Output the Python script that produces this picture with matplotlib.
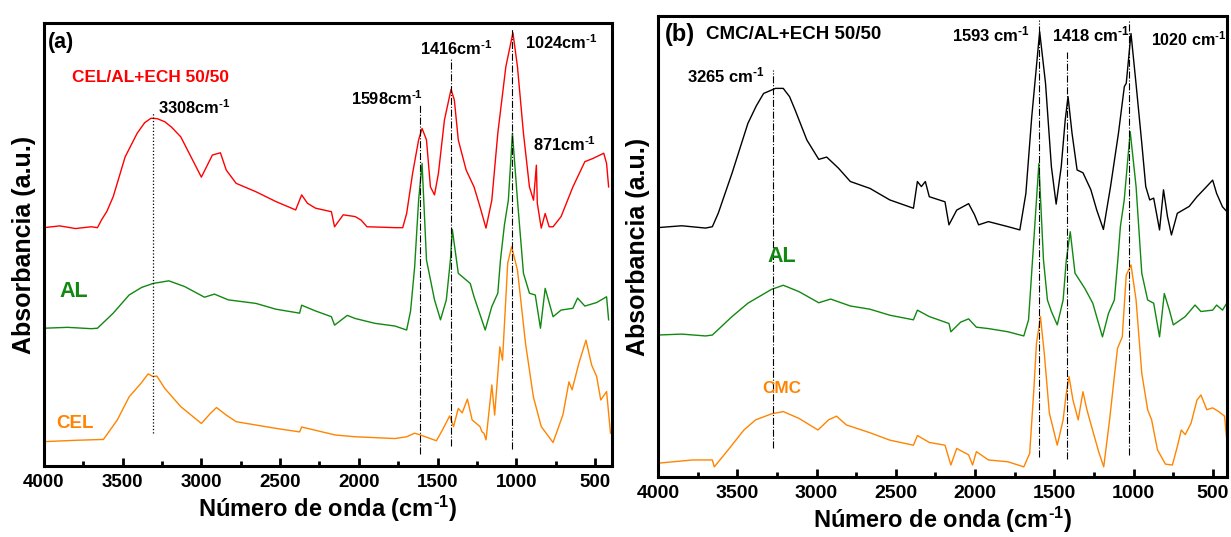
import matplotlib
matplotlib.use("Agg")
import matplotlib.pyplot as plt
from matplotlib.ticker import MultipleLocator

plt.rcParams['font.family'] = ['Liberation Sans', 'DejaVu Sans']
plt.rcParams['font.weight'] = 'bold'
plt.rcParams['mathtext.fontset'] = 'custom'
plt.rcParams['mathtext.rm'] = 'Liberation Sans:bold'
plt.rcParams['mathtext.bf'] = 'Liberation Sans:bold'
plt.rcParams['mathtext.default'] = 'bf'

# --- panel (a): CEL/AL+ECH 50/50, AL, CEL (absorbance in a.u., 0-100 of the axis) ---
cel_al_ech_wn = [4000, 3900, 3800, 3700, 3660, 3635, 3600, 3560, 3484, 3408, 3360, 3320, 3280, 3232,
                 3190, 3131, 3056, 3000, 2930, 2879, 2842, 2779, 2653, 2527, 2401, 2363, 2326, 2275,
                 2174, 2154, 2099, 2023, 1985, 1948, 1850, 1771, 1721, 1696, 1658, 1620, 1598, 1570,
                 1545, 1519, 1494, 1456, 1414, 1393, 1368, 1318, 1268, 1230, 1192, 1155, 1117, 1066,
                 1021, 992, 954, 916, 890, 872, 866, 841, 816, 791, 766, 715, 640, 564, 514, 444,
                 426, 413]
cel_al_ech_abs = [53.8, 54.2, 53.6, 54.0, 53.8, 55.5, 57.5, 60.8, 69.8, 75.1, 77.5, 78.5, 78.4, 77.7,
                  76.5, 74.3, 69.1, 65.2, 70.2, 70.7, 66.8, 63.8, 61.9, 59.7, 57.8, 61.2, 59.3, 58.2,
                  57.4, 54.0, 56.7, 56.3, 55.5, 54.0, 53.9, 53.8, 53.8, 57.0, 66.1, 73.6, 76.2, 73.6,
                  63.0, 61.2, 66.1, 78.1, 85.0, 82.6, 73.6, 66.8, 63.0, 58.5, 53.7, 60.0, 75.1, 90.1,
                  97.8, 90.1, 75.1, 63.0, 60.0, 67.9, 59.3, 53.7, 57.0, 54.0, 54.0, 56.3, 63.0, 68.7,
                  69.4, 70.6, 68.3, 63.0]

al_a_wn = [4000, 3850, 3700, 3660, 3560, 3459, 3380, 3308, 3207, 3106, 2980, 2917, 2829, 2653,
           2527, 2376, 2363, 2275, 2174, 2154, 2073, 2023, 1897, 1771, 1696, 1671, 1645, 1620,
           1598, 1570, 1519, 1481, 1444, 1418, 1406, 1368, 1292, 1268, 1197, 1155, 1117, 1100,
           1075, 1050, 1024, 992, 954, 916, 879, 846, 816, 766, 715, 640, 610, 564, 489, 426, 413]
al_a_abs = [31.1, 31.3, 31.0, 31.1, 34.5, 38.6, 40.3, 41.2, 41.8, 40.5, 38.1, 38.8, 37.5, 36.7,
            35.4, 34.5, 36.3, 35.0, 33.7, 31.8, 34.0, 33.3, 32.2, 31.6, 30.7, 35.0, 45.0, 60.0,
            68.3, 46.5, 37.5, 33.0, 37.5, 46.5, 53.4, 43.5, 41.2, 38.2, 30.7, 36.0, 39.0, 46.5,
            54.4, 60.0, 75.1, 60.0, 43.5, 39.0, 38.6, 31.1, 40.1, 33.7, 35.2, 35.6, 37.9, 36.1,
            36.9, 38.2, 33.0]

cel_wn = [4000, 3800, 3622, 3534, 3459, 3383, 3338, 3308, 3283, 3232, 3131, 3000, 2942, 2904,
          2842, 2779, 2527, 2376, 2363, 2149, 2023, 1771, 1696, 1645, 1608, 1507, 1469, 1423,
          1398, 1368, 1343, 1310, 1280, 1230, 1217, 1205, 1192, 1155, 1137, 1104, 1087, 1054,
          1029, 992, 941, 891, 841, 766, 703, 665, 645, 602, 557, 521, 489, 463, 426, 401]
cel_abs = [5.5, 5.8, 6.0, 10.4, 15.6, 18.7, 20.8, 20.2, 20.3, 17.5, 13.4, 9.6, 11.9, 13.2,
           11.5, 10.0, 8.5, 7.7, 8.8, 7.0, 6.6, 6.2, 6.6, 7.4, 7.0, 5.7, 8.1, 11.3,
           8.9, 13.0, 12.0, 15.1, 10.4, 8.9, 7.7, 7.4, 5.9, 18.3, 11.5, 26.9, 23.9, 45.8,
           49.5, 44.2, 27.7, 15.6, 8.9, 5.3, 11.6, 19.0, 17.2, 23.2, 28.4, 22.8, 20.2, 14.9, 16.8, 7.4]

# --- panel (b): CMC/AL+ECH 50/50, AL, CMC ---
cmc_al_ech_wn = [4000, 3850, 3700, 3657, 3620, 3533, 3433, 3380, 3334, 3259, 3210, 3170, 3135, 3061,
                 2986, 2936, 2862, 2787, 2663, 2538, 2389, 2364, 2339, 2314, 2289, 2190, 2165, 2116,
                 2041, 2004, 1978, 1916, 1792, 1718, 1680, 1643, 1593, 1556, 1519, 1489, 1457, 1432,
                 1414, 1389, 1357, 1320, 1270, 1233, 1191, 1146, 1096, 1059, 1047, 1017, 985, 949,
                 924, 899, 874, 837, 812, 787, 762, 725, 650, 601, 551, 502, 477, 440, 402]
cmc_al_ech_abs = [54.1, 54.5, 54.0, 54.3, 57.2, 65.9, 76.7, 80.5, 83.2, 84.3, 84.3, 82.5, 79.6, 73.1,
                  68.9, 69.4, 67.0, 64.1, 62.6, 60.1, 58.3, 64.1, 63.0, 64.1, 60.8, 59.7, 54.7, 57.9,
                  59.3, 56.9, 54.7, 55.4, 54.3, 53.6, 61.5, 78.1, 96.6, 85.4, 67.3, 59.2, 67.3, 77.4,
                  82.5, 74.6, 66.6, 66.0, 62.3, 57.9, 53.7, 63.0, 74.6, 84.7, 85.4, 96.2, 85.2, 72.4,
                  63.0, 60.1, 60.5, 53.6, 62.3, 56.5, 52.5, 57.2, 58.7, 60.8, 62.6, 64.4, 61.5, 58.6,
                  57.2]

al_b_wn = [4000, 3850, 3700, 3657, 3533, 3433, 3284, 3210, 3110, 2986, 2911, 2787, 2663, 2538,
           2389, 2364, 2289, 2165, 2153, 2091, 2041, 1992, 1916, 1792, 1693, 1663, 1638, 1598,
           1569, 1544, 1519, 1482, 1445, 1425, 1400, 1370, 1308, 1258, 1197, 1159, 1122, 1100,
           1084, 1060, 1022, 985, 949, 912, 874, 837, 807, 775, 750, 675, 613, 576, 502, 477,
           440, 415, 402]
al_b_abs = [30.8, 31.0, 30.6, 30.8, 34.8, 37.7, 40.7, 41.6, 40.2, 37.8, 38.6, 37.1, 36.4, 35.1,
            34.1, 36.2, 34.8, 33.3, 31.5, 33.6, 34.3, 32.5, 32.2, 31.5, 30.6, 34.1, 47.1, 68.0,
            47.1, 38.4, 35.9, 33.0, 38.4, 47.1, 53.2, 44.2, 40.9, 37.7, 30.4, 35.5, 38.4, 47.1,
            54.3, 60.0, 74.9, 63.0, 44.2, 38.4, 37.7, 30.4, 39.8, 36.2, 33.0, 34.8, 37.3, 35.9,
            36.2, 37.3, 36.2, 37.6, 34.3]

cmc_wn = [4000, 3781, 3657, 3645, 3557, 3458, 3384, 3284, 3210, 3110, 2991, 2924, 2874, 2812,
          2663, 2538, 2389, 2364, 2289, 2190, 2153, 2116, 2041, 2016, 1992, 1916, 1792, 1693,
          1656, 1631, 1613, 1588, 1563, 1532, 1482, 1445, 1425, 1408, 1383, 1350, 1320, 1295,
          1258, 1221, 1189, 1152, 1122, 1102, 1072, 1047, 1017, 985, 949, 912, 887, 850,
          800, 756, 725, 700, 675, 638, 601, 576, 539, 502, 464, 427, 409, 397]
cmc_abs = [3.0, 3.7, 3.7, 2.2, 5.9, 10.2, 12.4, 13.7, 14.2, 12.7, 10.2, 12.4, 13.2, 11.3,
           9.6, 8.0, 6.9, 9.0, 7.5, 6.9, 2.6, 6.2, 4.8, 2.6, 5.5, 3.7, 3.3, 2.2,
           5.1, 18.2, 29.0, 34.8, 26.5, 13.9, 6.9, 12.4, 18.2, 21.8, 16.7, 12.4, 18.5, 14.6,
           10.0, 5.5, 2.2, 12.4, 21.8, 27.9, 30.4, 43.8, 46.0, 38.4, 22.5, 14.6, 12.4, 5.9,
           2.8, 2.6, 6.6, 10.2, 9.2, 11.7, 16.7, 17.8, 14.6, 15.0, 14.2, 13.2, 6.6, 2.2]

xticks = [4000, 3500, 3000, 2500, 2000, 1500, 1000, 500]

RED = '#ff0000'
GREEN = '#118811'
ORANGE = '#ff8400'
SUP = '$^{\\text{-1}}$'


def setup_axes(ax, xmin, ticksize):
    ax.set_xlim(4000, xmin)
    ax.set_ylim(0, 100)
    ax.set_xticks(xticks)
    ax.xaxis.set_minor_locator(MultipleLocator(250))
    ax.set_yticks([])
    ax.tick_params(axis='x', which='major', direction='in', length=6, width=2,
                   labelsize=ticksize, pad=6)
    ax.tick_params(axis='x', which='minor', direction='in', length=3.5, width=2)
    for s in ax.spines.values():
        s.set_linewidth(2.2)
    ax.set_xlabel('Número de onda (cm' + SUP + ')', fontsize=17, fontweight='bold', labelpad=2)
    ax.set_ylabel('Absorbancia (a.u.)', fontsize=18, fontweight='bold', labelpad=6)


fig = plt.figure(figsize=(12.31, 5.37), dpi=100)

# panel (a)
ax1 = fig.add_axes([0.0357, 0.1322, 0.4614, 0.825])
setup_axes(ax1, 392, 13.5)
ax1.plot(cel_al_ech_wn, cel_al_ech_abs, color=RED, lw=1.0)
ax1.plot(al_a_wn, al_a_abs, color=GREEN, lw=1.0)
ax1.plot(cel_wn, cel_abs, color=ORANGE, lw=1.0)
ax1.vlines(3308, 7.4, 79.7, colors='k', linestyles=':', lw=0.9)
ax1.vlines([1610, 1414, 1024], [2.7, 4.5, 3.8], [81.5, 92.0, 98.8], colors='k', linestyles='-.', lw=0.8)

ax1.text(3975, 95.5, '(a)', fontsize=15.5, va='center', ha='left')
ax1.text(3823, 87.6, 'CEL/AL+ECH 50/50', color=RED, fontsize=12.4, va='center', ha='left')
ax1.text(3275, 81.0, '3308cm' + SUP, fontsize=11.8, va='center', ha='left')
ax1.text(1590, 83.0, '1598cm' + SUP, fontsize=11.8, va='center', ha='right')
ax1.text(1380, 94.3, '1416cm' + SUP, fontsize=11.8, va='center', ha='center')
ax1.text(943, 95.6, '1024cm' + SUP, fontsize=11.8, va='center', ha='left')
ax1.text(892, 72.5, '871cm' + SUP, fontsize=11.8, va='center', ha='left')
ax1.text(3899, 39.3, 'AL', color=GREEN, fontsize=15.5, va='center', ha='left')
ax1.text(3924, 9.5, 'CEL', color=ORANGE, fontsize=13.5, va='center', ha='left')

# panel (b)
ax2 = fig.add_axes([0.5345, 0.1117, 0.4622, 0.8585])
setup_axes(ax2, 412, 14)
ax2.plot(cmc_al_ech_wn, cmc_al_ech_abs, color='k', lw=1.0)
ax2.plot(al_b_wn, al_b_abs, color=GREEN, lw=1.0)
ax2.plot(cmc_wn, cmc_abs, color=ORANGE, lw=1.0)
ax2.vlines([3272, 1600, 1420, 1030], [6.2, 4.4, 4.0, 4.8], [88.3, 99.1, 92.3, 99.0],
           colors='k', linestyles='-.', lw=0.8)

ax2.text(3956, 95.9, '(b)', fontsize=17, va='center', ha='left')
ax2.text(3697, 95.9, 'CMC/AL+ECH 50/50', fontsize=13.5, va='center', ha='left')
ax2.text(3817, 87.0, '3265 cm' + SUP, fontsize=12, va='center', ha='left')
ax2.text(1654, 95.9, '1593 cm' + SUP, fontsize=12, va='center', ha='right')
ax2.text(1516, 95.9, '1418 cm' + SUP, fontsize=12, va='center', ha='left')
ax2.text(893, 94.8, '1020 cm' + SUP, fontsize=11.6, va='center', ha='left')
ax2.text(3218, 47.8, 'AL', color=GREEN, fontsize=15.5, va='center', ha='center')
ax2.text(3218, 19.3, 'CMC', color=ORANGE, fontsize=12.3, va='center', ha='center')

fig.savefig('out.png', dpi=100)
